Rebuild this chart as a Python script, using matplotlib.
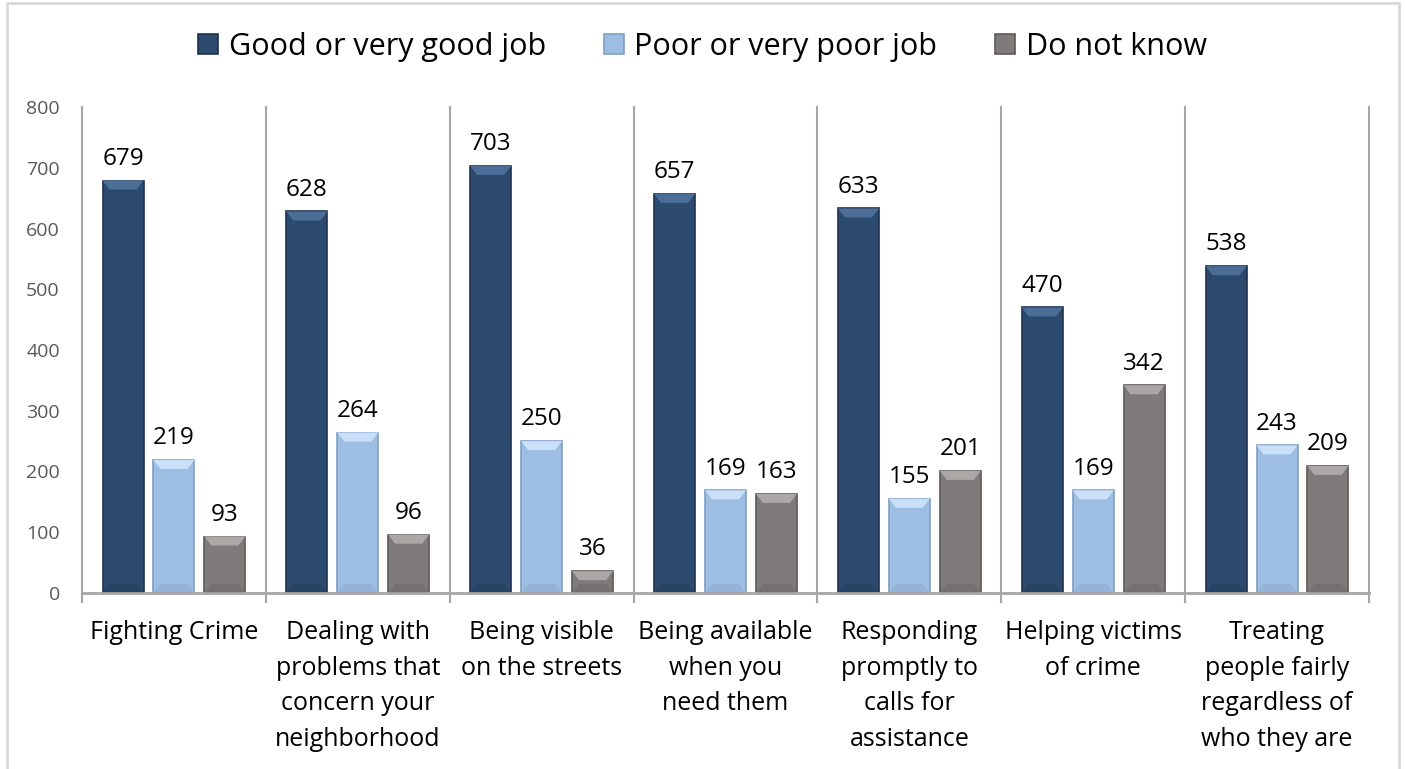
import matplotlib
matplotlib.use("Agg")
import matplotlib.pyplot as plt
from matplotlib.patches import Rectangle, Polygon
from matplotlib.transforms import blended_transform_factory
import numpy as np

categories = ["Fighting Crime",
              "Dealing with\nproblems that\nconcern your\nneighborhood",
              "Being visible\non the streets",
              "Being available\nwhen you\nneed them",
              "Responding\npromptly to\ncalls for\nassistance",
              "Helping victims\nof crime",
              "Treating\npeople fairly\nregardless of\nwho they are"]
series_names = ["Good or very good job", "Poor or very poor job", "Do not know"]
good = [679, 628, 703, 657, 633, 470, 538]
poor = [219, 264, 250, 169, 155, 169, 243]
dont_know = [93, 96, 36, 163, 201, 342, 209]
yticks = [0, 100, 200, 300, 400, 500, 600, 700, 800]

colors = ["#2C4A6E", "#9DBDE3", "#7F7B7B"]
edge_colors = ["#1E3450", "#7F9FC5", "#5E5A5A"]
top_colors = ["#4C6D96", "#C9E0F8", "#ABA7A7"]

plt.rcParams['font.family'] = ['Open Sans', 'DejaVu Sans']

fig = plt.figure(figsize=(14.05, 7.69), dpi=100)
ax = fig.add_axes([82/1405, 1-593/769, (1369-82)/1405, (593-107)/769])

x = np.arange(len(categories))
width = 0.223
pitch = 0.277
data = [good, poor, dont_know]

px_x = 1.0 / ((1369 - 82) / 7.0)  # data units per pixel in x
px_y = 800.0 / (593 - 107)          # data units per pixel in y

for i, vals in enumerate(data):
    bars = ax.bar(x + (i - 1) * pitch, vals, width, color=colors[i],
                  edgecolor=edge_colors[i], linewidth=1.2, zorder=3,
                  label=series_names[i])
    for b, v in zip(bars, vals):
        bx, bw, bh = b.get_x(), b.get_width(), b.get_height()
        dx = 7 * px_x
        dy = min(9 * px_y, bh / 2)
        top = Polygon([[bx, bh], [bx + bw, bh], [bx + bw - dx, bh - dy], [bx + dx, bh - dy]],
                      closed=True, facecolor=top_colors[i], edgecolor='none', zorder=4)
        ax.add_patch(top)
        bot = Polygon([[bx, 0], [bx + bw, 0], [bx + bw - dx, dy], [bx + dx, dy]],
                      closed=True, facecolor=edge_colors[i], edgecolor='none', alpha=0.3, zorder=4)
        ax.add_patch(bot)
        ax.annotate(str(v), (bx + bw / 2, bh), xytext=(0, 7), textcoords='offset points',
                    ha='center', va='bottom', fontsize=17.5, color='black')

ax.set_xlim(-0.5, len(categories) - 0.5)
ax.set_ylim(0, 800)
ax.set_yticks(yticks)
ax.set_yticklabels([str(t) for t in yticks], fontsize=14, color='#595959')
ax.tick_params(axis='y', length=0, pad=16)
ax.set_xticks([])
for s in ['top', 'right', 'left']:
    ax.spines[s].set_visible(False)
ax.spines['bottom'].set_color('#A6A6A6')
ax.spines['bottom'].set_linewidth(2)
ax.spines['bottom'].set_zorder(5)

sep_color = '#A6A6A6'
for k in range(len(categories) + 1):
    ax.plot([k - 0.5, k - 0.5], [800, -9 * px_y], color=sep_color, lw=1.5,
            clip_on=False, zorder=2)

trans = blended_transform_factory(ax.transData, fig.transFigure)
for xi, lab in zip(x, categories):
    ax.text(xi, 1 - 620 / 769, lab, transform=trans, ha='center', va='top',
            fontsize=18, linespacing=1.56, color='black', multialignment='center')

leg = fig.legend(loc='center', bbox_to_anchor=(0.5, 1 - 47 / 769), ncol=3, frameon=False,
                 fontsize=22, handlelength=0.65, handleheight=0.65, handletextpad=0.35,
                 columnspacing=1.9)

fig.patches.append(Rectangle((7 / 1405, -0.05), (1399 - 7) / 1405, 1.05 - 3 / 769,
                             transform=fig.transFigure, fill=False,
                             edgecolor='#D9D9D9', linewidth=2))

fig.savefig("out.png", dpi=100)
